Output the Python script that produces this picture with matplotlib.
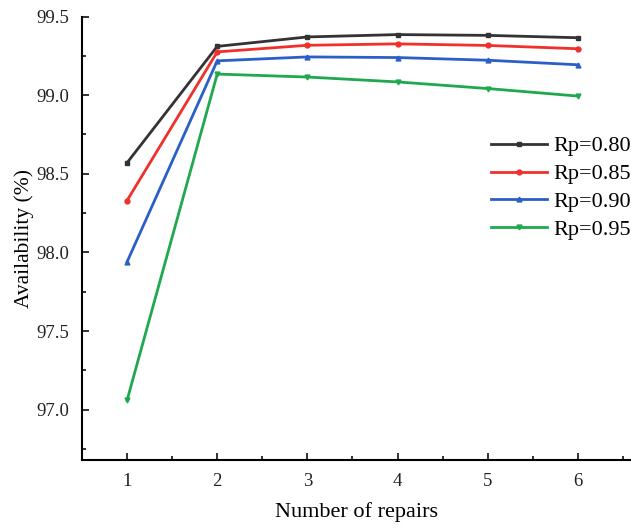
import matplotlib
matplotlib.use("Agg")
import matplotlib.pyplot as plt
from matplotlib.ticker import MultipleLocator

plt.rcParams['font.family'] = ['Liberation Serif', 'DejaVu Serif']

# data
repairs = [1, 2, 3, 4, 5, 6]
rp_080 = [98.57, 99.31, 99.37, 99.385, 99.38, 99.365]
rp_085 = [98.33, 99.275, 99.317, 99.326, 99.316, 99.295]
rp_090 = [97.94, 99.218, 99.243, 99.239, 99.222, 99.193]
rp_095 = [97.06, 99.134, 99.115, 99.084, 99.042, 98.994]
labels = ["Rp=0.80", "Rp=0.85", "Rp=0.90", "Rp=0.95"]

fig = plt.figure(figsize=(6.31, 5.29), dpi=100)
ax = fig.add_axes([82/631, 69/529, 1 - 82/631, (460 - 16.5)/529])

series = [rp_080, rp_085, rp_090, rp_095]
colors = ["#333333", "#f0302c", "#2b5fc8", "#1fa84f"]
markers = ["s", "o", "^", "v"]
for ys, c, m, lab in zip(series, colors, markers, labels):
    ax.plot(repairs, ys, color=c, marker=m, markersize=3.5, lw=2, label=lab)

ax.set_xlim(0.5, 6.59)
ax.set_ylim(96.68, 99.5)
ax.xaxis.set_major_locator(MultipleLocator(1))
ax.xaxis.set_minor_locator(MultipleLocator(0.5))
ax.yaxis.set_major_locator(MultipleLocator(0.5))
ax.yaxis.set_minor_locator(MultipleLocator(0.25))
ax.yaxis.set_major_formatter(matplotlib.ticker.FormatStrFormatter('%.1f'))

ax.spines['top'].set_visible(False)
ax.spines['right'].set_visible(False)
ax.spines['left'].set_linewidth(1.5)
ax.spines['bottom'].set_linewidth(1.5)
ax.tick_params(which='both', direction='in', width=1.3, labelsize=13.5, colors='#222222')
ax.tick_params(which='major', length=5)
ax.tick_params(axis='x', which='major', pad=9)
ax.tick_params(axis='y', which='major', pad=9)
ax.tick_params(which='minor', length=3)

ax.set_xlabel("Number of repairs", fontsize=16, labelpad=9)
ax.set_ylabel("Availability (%)", fontsize=15.5, labelpad=2)

ax.legend(loc='center left', bbox_to_anchor=(491/631, 1 - 188/529),
          bbox_transform=fig.transFigure, frameon=False, fontsize=16,
          handlelength=2.5, handletextpad=0.3, labelspacing=0.33,
          borderaxespad=0, borderpad=0)

fig.savefig("out.png", dpi=100)
